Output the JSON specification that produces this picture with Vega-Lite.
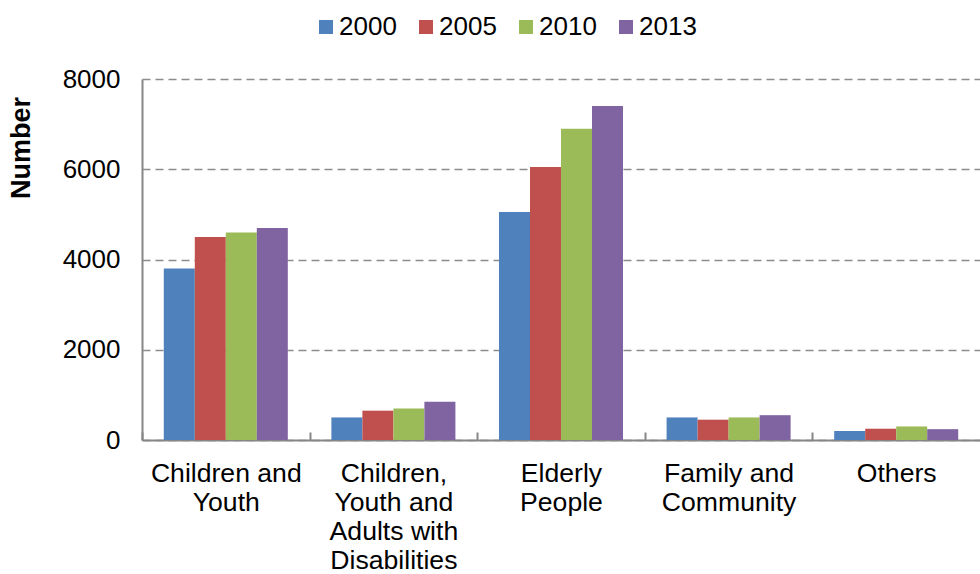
{
  "$schema": "https://vega.github.io/schema/vega-lite/v6.json",
  "width": 838,
  "height": 361,
  "autosize": "none",
  "padding": {"left": 142, "top": 79, "right": 0, "bottom": 134},
  "background": "white",
  "config": {
    "view": {"stroke": null},
    "font": "Liberation Sans"
  },
  "data": {
    "values": [
      {"category": "Children and|Youth", "year": "2000", "value": 3800},
      {"category": "Children and|Youth", "year": "2005", "value": 4500},
      {"category": "Children and|Youth", "year": "2010", "value": 4600},
      {"category": "Children and|Youth", "year": "2013", "value": 4700},
      {"category": "Children,|Youth and|Adults with|Disabilities", "year": "2000", "value": 500},
      {"category": "Children,|Youth and|Adults with|Disabilities", "year": "2005", "value": 650},
      {"category": "Children,|Youth and|Adults with|Disabilities", "year": "2010", "value": 700},
      {"category": "Children,|Youth and|Adults with|Disabilities", "year": "2013", "value": 850},
      {"category": "Elderly|People", "year": "2000", "value": 5050},
      {"category": "Elderly|People", "year": "2005", "value": 6050},
      {"category": "Elderly|People", "year": "2010", "value": 6900},
      {"category": "Elderly|People", "year": "2013", "value": 7400},
      {"category": "Family and|Community", "year": "2000", "value": 500},
      {"category": "Family and|Community", "year": "2005", "value": 450},
      {"category": "Family and|Community", "year": "2010", "value": 500},
      {"category": "Family and|Community", "year": "2013", "value": 550},
      {"category": "Others", "year": "2000", "value": 200},
      {"category": "Others", "year": "2005", "value": 250},
      {"category": "Others", "year": "2010", "value": 300},
      {"category": "Others", "year": "2013", "value": 240}
    ]
  },
  "mark": {"type": "bar"},
  "encoding": {
    "x": {
      "field": "category",
      "type": "nominal",
      "sort": null,
      "scale": {"paddingInner": 0.26, "paddingOuter": 0.13},
      "axis": {
        "title": null,
        "labelAngle": 0,
        "labelExpr": "split(datum.label, '|')",
        "labelFontSize": 26.6,
        "labelColor": "#000000",
        "labelLineHeight": 29,
        "labelPadding": 28,
        "labelBaseline": "top",
        "bandPosition": 0,
        "tickOffset": -21.8,
        "labelOffset": 21.8,
        "domainColor": "#868686",
        "domainWidth": 2,
        "tickColor": "#868686",
        "tickWidth": 2,
        "tickSize": -8,
        "grid": false
      }
    },
    "xOffset": {"field": "year", "type": "nominal", "sort": ["2000", "2005", "2010", "2013"]},
    "y": {
      "field": "value",
      "type": "quantitative",
      "scale": {"domain": [0, 8000], "nice": false},
      "axis": {
        "title": "Number",
        "titleFontSize": 27,
        "titleFontWeight": "bold",
        "titleColor": "#000000",
        "titleAngle": 270,
        "titleX": -121,
        "titleY": 68.5,
        "titleAlign": "center",
        "titleBaseline": "middle",
        "values": [0, 2000, 4000, 6000, 8000],
        "format": "d",
        "labelFontSize": 26,
        "labelColor": "#000000",
        "labelPadding": 22,
        "ticks": false,
        "domainColor": "#868686",
        "domainWidth": 2,
        "grid": true,
        "gridColor": "#8c8c8c",
        "gridWidth": 1.5,
        "gridDash": [8, 5]
      }
    },
    "color": {
      "field": "year",
      "type": "nominal",
      "scale": {
        "domain": ["2000", "2005", "2010", "2013"],
        "range": ["#4F81BD", "#C0504D", "#9BBB59", "#8064A2"]
      },
      "legend": {
        "title": null,
        "orient": "none",
        "direction": "horizontal",
        "legendX": 171,
        "legendY": -65,
        "symbolType": "square",
        "symbolSize": 196,
        "symbolOpacity": 1,
        "symbolStrokeWidth": 0,
        "labelFontSize": 26,
        "labelColor": "#000000",
        "labelOffset": 0,
        "columnPadding": 16
      }
    }
  }
}
